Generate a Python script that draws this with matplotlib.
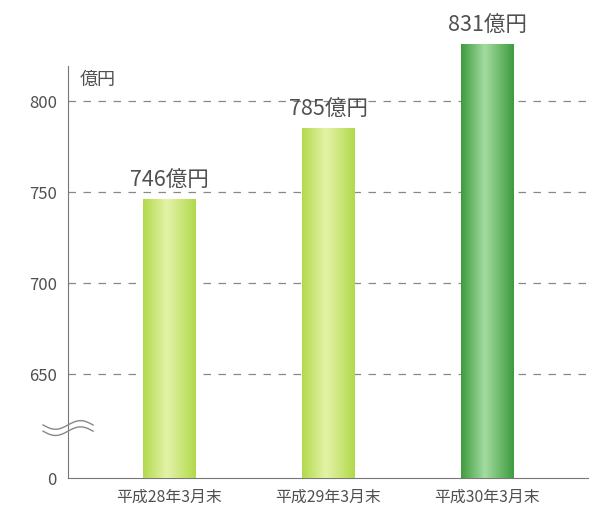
import numpy as np
import matplotlib
matplotlib.use("Agg")
import matplotlib.pyplot as plt
from matplotlib.colors import LinearSegmentedColormap

plt.rcParams['font.family'] = ['Noto Sans CJK JP', 'DejaVu Sans']

categories = ['平成28年3月末', '平成29年3月末', '平成30年3月末']
values = [746, 785, 831]
edge_colors = ['#b2d94c', '#b2d94c', '#3d9b3f']
center_colors = ['#e4f3a8', '#e4f3a8', '#a3dca0']
yticks = [650, 700, 750, 800]

# value shown at the bottom of the broken axis (labelled "0")
y_base = 593
y_top = 855.5

fig = plt.figure(figsize=(5.89, 5.13), dpi=100)
ax = fig.add_axes([0.1155, 0.0682, 0.8845, 0.9318])

x = np.arange(len(categories))
width = 0.33
grad = np.linspace(0, 1, 200)
for xi, v, ec, cc in zip(x, values, edge_colors, center_colors):
    cmap = LinearSegmentedColormap.from_list('g', [ec, cc, ec])
    # cylinder shading, highlight a bit left of centre
    prof = np.where(grad < 0.45, grad / 0.45 * 0.5, 0.5 + (grad - 0.45) / 0.55 * 0.5)
    ax.imshow(prof[np.newaxis, :], cmap=cmap, aspect='auto',
              extent=(xi - width / 2, xi + width / 2, y_base, v),
              interpolation='bicubic', zorder=3)
    ax.text(xi, v + 4, f'{v}億円', ha='center', va='bottom',
            fontsize=15.5, color='#505050', zorder=4)

for t in yticks:
    ax.axhline(t, color='#888888', lw=0.9, ls=(0, (6, 6)), zorder=1)

ax.set_xlim(-0.635, 2.64)
ax.set_ylim(y_base, y_top)
ax.set_xticks(x)
ax.set_xticklabels(categories, fontsize=11.4, color='#505050')
ax.set_yticks([y_base] + yticks)
ax.set_yticklabels(['0'] + [str(t) for t in yticks], fontsize=12, color='#505050')
ax.tick_params(axis='both', length=0, pad=8)
ax.tick_params(axis='x', pad=8)

for s in ['top', 'right']:
    ax.spines[s].set_visible(False)
ax.spines['left'].set_bounds(y_base, 819)
ax.spines['left'].set_color('#777777')
ax.spines['bottom'].set_color('#777777')

ax.text(0.022, 0.832, '億円', transform=ax.transAxes, fontsize=13,
        color='#505050', ha='left', va='center')

# axis break mark
wx = np.linspace(-0.048, 0.048, 60)
wave = 0.009 * np.sin((wx + 0.048) / 0.096 * 2 * np.pi)
for off in (0.006, -0.007):
    ax.plot(wx, 0.105 + off - wave, transform=ax.transAxes, color='#888888',
            lw=1.0, clip_on=False, zorder=5)

fig.savefig('out.png', dpi=100)
